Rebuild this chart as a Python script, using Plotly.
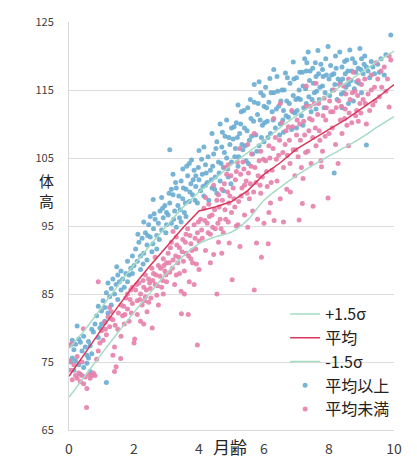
import plotly.graph_objects as go

# ---- reference curves (month, height) ----
curve_x = [0, 0.5, 1, 1.5, 2, 2.5, 3, 3.5, 4, 4.5, 5, 5.5, 6, 6.5, 7, 7.5, 8, 8.5, 9, 9.5, 10]
mean_y = [72.9, 76.4, 79.8, 83.1, 86.3, 89.2, 92.0, 94.7, 97.2, 97.8, 98.6, 100.2, 102.6, 104.3, 106.3,
          107.8, 109.2, 110.6, 112.2, 113.9, 115.8]
upper_y = [77.0, 79.8, 83.0, 86.2, 89.3, 92.2, 95.0, 97.7, 100.0, 102.0, 104.0, 105.8, 107.5, 109.5, 111.2,
           112.8, 114.4, 116.0, 117.6, 119.2, 120.7]
lower_y = [69.8, 73.0, 76.2, 79.3, 82.3, 85.2, 88.0, 90.5, 92.4, 93.4, 94.1, 95.9, 98.8, 100.7, 102.4,
           103.9, 105.3, 106.6, 108.0, 109.6, 111.1]

# ---- individual points: above mean ----
above = [
    (0.05, 77.5), (0.1, 78.2), (0.15, 76.8), (0.2, 77.6), (0.25, 80.3), (0.3, 78.4), (0.35, 77.9), (0.4, 76.6),
    (0.45, 78.8), (0.5, 77.2), (0.55, 76.0), (0.6, 78.0), (0.65, 77.4), (0.7, 76.2), (0.1, 75.6), (0.2, 75.2),
    (0.3, 74.6), (0.45, 74.2), (0.55, 74.8), (0.65, 73.6), (0.6, 75.6), (0.35, 73.2), (0.15, 73.8), (0.75, 79.4),
    (0.8, 80.6), (0.85, 81.8), (0.9, 83.2), (0.95, 80.0), (0.9, 78.6), (0.7, 79.8), (0.05, 75.0),
    (1.0, 82.5), (1.05, 84.0), (1.1, 83.0), (1.15, 85.2), (1.2, 82.2), (1.25, 84.6), (1.3, 85.8), (1.35, 87.2),
    (1.4, 85.0), (1.45, 86.4), (1.5, 87.8), (1.5, 84.2), (1.55, 86.8), (1.6, 88.4), (1.65, 87.2), (1.7, 86.0),
    (1.75, 88.0), (1.8, 89.8), (1.85, 87.8), (1.9, 88.8), (1.95, 90.6), (2.0, 89.2), (1.15, 72.0), (1.0, 80.6),
    (1.1, 81.0), (1.3, 83.4), (1.6, 85.6), (1.8, 86.8), (1.95, 88.0), (1.47, 89.0), (1.2, 86.6),
    (2.05, 91.6), (2.1, 89.8), (2.15, 92.6), (2.2, 90.6), (2.25, 93.2), (2.3, 91.0), (2.35, 94.0), (2.4, 92.2),
    (2.45, 95.2), (2.5, 93.4), (2.55, 91.2), (2.6, 94.6), (2.59, 98.9), (2.65, 96.0), (2.7, 93.6), (2.75, 95.4),
    (2.8, 97.2), (2.85, 94.4), (2.9, 96.2), (2.95, 98.0), (3.0, 95.2), (3.0, 97.0), (2.2, 88.6), (2.4, 90.0),
    (2.5, 96.4), (2.7, 91.6), (2.85, 99.2), (2.3, 95.6),
    (2.12, 93.8), (2.28, 89.4), (2.42, 93.6), (2.58, 92.4), (2.62, 96.8), (2.78, 93.0), (2.88, 97.6), (2.98, 94.0),
    (3.05, 96.6), (3.1, 98.4), (3.1, 106.2), (3.15, 95.4), (3.2, 99.6), (3.25, 97.2), (3.3, 100.6), (3.35, 98.0),
    (3.4, 96.2), (3.45, 101.6), (3.5, 99.0), (3.55, 97.0), (3.6, 100.4), (3.65, 102.4), (3.7, 98.6), (3.75, 101.2),
    (3.77, 104.7), (3.8, 99.6), (3.85, 103.2), (3.9, 100.8), (3.95, 98.4), (4.0, 101.8), (4.0, 106.1), (3.2, 102.6),
    (3.5, 103.4), (3.3, 94.8), (3.6, 96.4), (3.7, 104.2), (3.9, 102.4), (3.15, 100.4), (3.45, 95.6),
    (3.08, 99.8), (3.22, 96.0), (3.28, 101.4), (3.38, 99.4), (3.42, 97.4), (3.52, 100.6), (3.58, 98.4), (3.62, 103.8),
    (3.72, 100.0), (3.82, 101.8), (3.88, 98.8), (3.98, 103.6),
    (4.05, 100.2), (4.1, 102.6), (4.15, 99.4), (4.2, 104.0), (4.25, 101.4), (4.3, 98.8), (4.35, 103.2), (4.4, 100.6),
    (4.45, 105.6), (4.5, 102.2), (4.55, 99.8), (4.6, 104.4), (4.65, 110.0), (4.65, 101.6), (4.7, 106.6), (4.75, 103.6),
    (4.8, 108.2), (4.85, 105.0), (4.9, 102.2), (4.95, 107.0), (5.0, 104.4), (4.15, 106.6), (4.4, 108.6), (4.55, 107.4),
    (4.85, 110.6), (4.75, 100.2), (5.0, 109.4), (4.2, 101.0),
    (4.08, 104.8), (4.12, 100.8), (4.22, 102.8), (4.28, 105.2), (4.38, 101.8), (4.42, 103.8), (4.48, 100.4), (4.52, 106.4),
    (4.62, 102.8), (4.68, 104.2), (4.72, 108.8), (4.78, 105.8), (4.88, 103.4), (4.92, 108.0), (4.98, 101.2),
    (5.05, 107.8), (5.1, 105.2), (5.15, 110.2), (5.2, 103.8), (5.25, 108.6), (5.3, 111.8), (5.35, 106.2), (5.4, 109.4),
    (5.45, 104.6), (5.5, 112.4), (5.55, 107.6), (5.6, 110.8), (5.65, 105.6), (5.7, 115.8), (5.7, 113.2), (5.75, 108.4),
    (5.8, 111.4), (5.85, 106.8), (5.9, 114.6), (5.95, 109.8), (6.0, 112.6), (5.2, 112.8), (5.85, 116.2), (6.0, 107.4),
    (5.08, 109.6), (5.12, 106.4), (5.18, 108.0), (5.22, 105.2), (5.28, 110.0), (5.32, 107.0), (5.38, 112.0), (5.42, 106.8),
    (5.48, 109.0), (5.52, 104.2), (5.58, 113.6), (5.62, 108.2), (5.68, 110.4), (5.78, 106.0), (5.82, 113.0), (5.88, 110.6),
    (5.92, 108.0), (5.98, 114.2),
    (6.05, 115.4), (6.1, 110.4), (6.15, 113.2), (6.18, 116.7), (6.2, 108.6), (6.25, 111.8), (6.3, 114.6), (6.35, 109.4),
    (6.4, 117.0), (6.45, 112.6), (6.5, 110.0), (6.55, 115.0), (6.6, 108.8), (6.66, 117.5), (6.7, 113.4), (6.75, 111.0),
    (6.8, 116.0), (6.85, 109.2), (6.9, 119.1), (6.9, 114.2), (6.95, 111.6), (7.0, 116.8), (7.0, 109.4), (6.3, 118.0),
    (6.6, 112.0),
    (6.02, 110.2), (6.08, 112.4), (6.12, 108.0), (6.22, 114.6), (6.28, 110.6), (6.38, 112.2), (6.42, 114.8), (6.48, 108.4),
    (6.52, 113.4), (6.58, 110.6), (6.62, 115.0), (6.68, 111.2), (6.72, 116.8), (6.78, 113.0), (6.88, 111.8), (6.92, 116.6),
    (6.98, 113.6),
    (7.05, 113.8), (7.1, 117.6), (7.15, 111.2), (7.2, 115.6), (7.25, 119.6), (7.3, 113.0), (7.36, 120.6), (7.4, 116.4),
    (7.45, 111.8), (7.5, 118.2), (7.55, 114.6), (7.6, 117.0), (7.66, 120.8), (7.7, 113.6), (7.75, 118.8), (7.8, 115.6),
    (7.85, 112.4), (7.9, 119.6), (7.97, 121.4), (8.0, 116.6), (7.2, 109.8), (7.6, 112.2), (7.3, 117.8), (7.8, 118.0),
    (7.02, 112.0), (7.08, 115.0), (7.12, 113.6), (7.18, 117.6), (7.22, 112.4), (7.28, 115.2), (7.32, 119.0), (7.38, 114.0),
    (7.42, 117.8), (7.48, 113.6), (7.52, 116.0), (7.58, 119.0), (7.62, 114.8), (7.68, 117.4), (7.72, 115.4), (7.82, 117.0),
    (7.88, 114.6), (7.92, 117.2),
    (8.05, 118.6), (8.1, 115.0), (8.16, 102.8), (8.15, 117.4), (8.2, 120.0), (8.25, 113.6), (8.33, 120.6), (8.35, 116.2),
    (8.4, 118.4), (8.45, 114.6), (8.5, 117.4), (8.55, 119.4), (8.6, 115.8), (8.64, 120.9), (8.7, 117.8), (8.75, 113.4),
    (8.8, 119.0), (8.85, 116.2), (8.9, 118.2), (8.95, 121.1), (9.0, 114.6), (9.0, 119.6), (8.4, 112.4), (8.6, 113.0),
    (8.02, 114.2), (8.08, 117.2), (8.18, 115.8), (8.22, 118.2), (8.28, 116.6), (8.38, 114.4), (8.42, 116.6), (8.48, 119.2),
    (8.52, 115.4), (8.58, 117.8), (8.68, 116.4), (8.72, 119.6), (8.78, 115.2), (8.82, 117.6), (8.92, 116.0), (8.98, 118.0),
    (9.05, 117.4), (9.1, 120.0), (9.15, 106.9), (9.15, 118.4), (9.25, 116.8), (9.3, 119.2), (9.4, 117.4), (9.5, 118.8),
    (9.6, 119.6), (9.7, 117.2), (9.9, 123.1), (9.75, 120.2), (9.08, 118.8), (9.2, 117.8), (9.35, 118.4), (9.55, 117.6),
]

# ---- individual points: below mean ----
below = [
    (0.02, 75.2), (0.05, 73.8), (0.1, 72.4), (0.15, 74.6), (0.2, 73.0), (0.25, 72.6), (0.3, 73.4), (0.35, 72.1),
    (0.4, 73.0), (0.45, 71.8), (0.5, 72.8), (0.55, 71.1), (0.54, 68.3), (0.6, 73.2), (0.65, 72.6), (0.7, 73.0),
    (0.75, 73.4), (0.8, 73.0), (0.85, 75.4), (0.9, 76.6), (0.95, 77.8), (0.44, 79.9), (0.08, 77.7), (0.25, 75.8),
    (0.4, 75.0), (0.9, 86.8),
    (1.0, 79.6), (1.05, 78.2), (1.1, 80.8), (1.15, 79.0), (1.2, 81.6), (1.25, 80.2), (1.3, 82.4), (1.35, 81.2),
    (1.4, 77.2), (1.45, 74.3), (1.5, 79.8), (1.59, 75.5), (1.6, 83.4), (1.65, 81.8), (1.7, 80.6), (1.75, 84.4),
    (1.8, 82.8), (1.85, 81.0), (1.9, 85.6), (1.95, 83.6), (2.0, 77.8), (2.02, 78.4), (1.35, 76.0), (1.6, 78.8),
    (1.8, 85.0), (1.95, 86.0), (1.25, 83.0), (1.4, 73.6),
    (1.12, 79.8), (1.28, 81.4), (1.42, 80.4), (1.52, 82.2), (1.68, 83.2), (1.72, 82.0), (1.88, 84.2), (1.92, 82.2),
    (2.05, 85.6), (2.1, 84.0), (2.15, 86.6), (2.2, 85.0), (2.25, 83.4), (2.3, 86.0), (2.35, 84.6), (2.4, 82.4),
    (2.45, 87.2), (2.5, 85.8), (2.56, 80.0), (2.6, 88.0), (2.65, 86.4), (2.7, 84.8), (2.75, 89.2), (2.8, 87.6),
    (2.85, 86.0), (2.9, 90.2), (2.95, 88.4), (3.0, 86.8), (2.2, 81.0), (2.35, 87.8), (2.55, 88.8), (2.75, 83.4),
    (2.9, 85.0), (3.0, 89.6), (2.45, 83.8), (2.65, 90.4), (2.1, 82.0), (2.3, 80.6),
    (2.08, 86.4), (2.18, 84.2), (2.28, 87.0), (2.32, 84.0), (2.38, 85.6), (2.48, 86.6), (2.52, 84.4), (2.58, 87.0),
    (2.68, 87.8), (2.72, 86.2), (2.82, 88.8), (2.88, 87.0), (2.92, 89.2), (2.98, 87.8),
    (3.05, 91.0), (3.1, 88.2), (3.15, 92.6), (3.2, 90.0), (3.25, 86.4), (3.3, 93.4), (3.35, 89.6), (3.4, 91.8),
    (3.45, 85.4), (3.46, 82.1), (3.5, 93.0), (3.55, 88.4), (3.6, 91.0), (3.65, 94.6), (3.67, 82.0), (3.7, 86.8),
    (3.75, 92.4), (3.8, 89.6), (3.85, 95.2), (3.9, 91.6), (3.95, 77.5), (3.95, 94.0), (4.0, 88.6), (4.0, 92.8),
    (3.3, 87.8), (3.55, 85.0), (3.75, 90.2), (3.2, 94.2), (3.4, 88.0), (3.85, 86.4), (3.6, 93.8),
    (3.08, 89.6), (3.12, 91.8), (3.18, 88.8), (3.28, 90.6), (3.32, 92.2), (3.38, 90.4), (3.48, 91.2), (3.52, 89.8),
    (3.58, 92.6), (3.68, 90.6), (3.72, 93.6), (3.78, 91.4), (3.88, 93.2), (3.92, 89.4), (3.98, 95.6),
    (4.05, 96.0), (4.1, 93.2), (4.15, 97.6), (4.2, 91.4), (4.25, 95.4), (4.3, 98.2), (4.35, 93.8), (4.4, 96.6),
    (4.45, 90.8), (4.5, 94.6), (4.55, 85.0), (4.55, 98.8), (4.6, 92.6), (4.65, 96.0), (4.7, 100.4), (4.75, 94.0),
    (4.8, 97.4), (4.85, 102.6), (4.9, 95.6), (4.93, 92.5), (4.95, 99.4), (5.0, 97.0), (5.02, 87.1), (4.2, 99.2),
    (4.45, 101.0), (4.7, 91.0), (4.8, 103.6), (4.35, 89.6), (4.6, 99.6), (4.9, 104.0),
    (4.08, 94.4), (4.18, 95.8), (4.28, 94.0), (4.32, 96.4), (4.42, 94.8), (4.48, 97.4), (4.58, 95.4), (4.62, 97.8),
    (4.68, 94.6), (4.72, 98.8), (4.78, 101.2), (4.82, 96.0), (4.88, 100.0), (4.92, 98.4), (4.98, 102.4),
    (5.05, 100.6), (5.1, 97.8), (5.15, 103.0), (5.2, 95.2), (5.26, 92.0), (5.3, 99.4), (5.35, 104.4), (5.4, 96.6),
    (5.45, 101.6), (5.5, 94.8), (5.55, 99.0), (5.6, 103.8), (5.65, 97.2), (5.7, 85.6), (5.75, 101.4), (5.77, 92.5),
    (5.8, 96.0), (5.85, 104.6), (5.9, 99.8), (5.92, 90.4), (5.95, 102.2), (6.0, 95.4), (5.25, 106.4), (5.5, 107.0),
    (5.7, 108.6), (5.15, 95.0), (5.4, 101.0), (5.9, 106.0),
    (5.08, 99.0), (5.12, 101.8), (5.18, 104.4), (5.22, 98.6), (5.28, 102.6), (5.32, 100.6), (5.38, 103.4), (5.48, 99.8),
    (5.52, 102.8), (5.58, 101.2), (5.62, 105.6), (5.68, 100.0), (5.72, 103.6), (5.82, 102.4), (5.88, 101.0), (5.98, 104.8),
    (6.05, 104.6), (6.1, 100.8), (6.13, 92.4), (6.15, 106.8), (6.2, 98.4), (6.25, 103.2), (6.31, 95.8), (6.35, 108.0),
    (6.4, 101.6), (6.45, 105.4), (6.5, 99.0), (6.55, 110.2), (6.6, 95.6), (6.6, 103.6), (6.65, 107.0), (6.7, 100.4),
    (6.75, 109.6), (6.8, 104.2), (6.81, 100.0), (6.85, 112.0), (6.9, 106.2), (6.95, 102.4), (7.0, 108.4), (6.3, 110.8),
    (6.5, 113.0), (6.15, 97.0),
    (6.08, 103.0), (6.18, 105.0), (6.22, 101.4), (6.28, 106.4), (6.38, 104.8), (6.48, 107.6), (6.58, 105.8), (6.68, 109.0),
    (6.72, 105.4), (6.78, 107.6), (6.88, 109.6), (6.98, 106.2),
    (7.05, 105.2), (7.08, 95.9), (7.1, 110.0), (7.15, 103.6), (7.18, 98.3), (7.2, 102.0), (7.25, 108.4), (7.3, 112.6),
    (7.35, 106.0), (7.4, 110.8), (7.45, 104.2), (7.5, 108.0), (7.51, 97.9), (7.55, 113.0), (7.6, 106.8), (7.65, 111.4),
    (7.7, 109.0), (7.75, 104.6), (7.77, 103.7), (7.8, 106.0), (7.85, 113.8), (7.9, 110.6), (7.97, 99.1), (8.0, 108.6),
    (7.3, 115.6), (7.6, 116.0),
    (7.02, 110.6), (7.12, 107.6), (7.22, 110.4), (7.28, 105.8), (7.38, 109.0), (7.42, 112.6), (7.48, 110.6), (7.58, 109.4),
    (7.68, 113.0), (7.72, 107.6), (7.82, 111.2), (7.88, 108.2), (7.92, 112.4),
    (8.05, 111.8), (8.1, 109.4), (8.2, 107.0), (8.28, 104.2), (8.3, 113.4), (8.35, 110.6), (8.4, 108.6), (8.45, 115.6),
    (8.5, 112.2), (8.55, 109.8), (8.6, 116.6), (8.65, 113.6), (8.7, 110.2), (8.75, 117.6), (8.8, 114.8), (8.85, 112.0),
    (8.9, 116.4), (8.95, 113.0), (9.0, 115.8), (8.15, 115.0), (8.6, 106.8), (8.9, 110.4),
    (8.02, 113.4), (8.12, 111.8), (8.22, 112.4), (8.32, 115.8), (8.38, 112.6), (8.48, 110.8), (8.52, 114.4), (8.62, 111.6),
    (8.72, 114.6), (8.82, 111.2), (8.88, 114.2), (8.98, 111.6),
    (9.05, 113.6), (9.1, 116.6), (9.15, 110.0), (9.2, 114.4), (9.3, 117.2), (9.35, 112.8), (9.4, 115.4), (9.5, 116.6),
    (9.55, 114.0), (9.6, 117.8), (9.7, 118.4), (9.8, 116.6), (9.85, 112.5), (9.85, 120.0), (9.9, 119.4), (9.3, 115.0),
    (9.45, 119.0), (9.12, 113.0), (9.25, 112.0), (9.42, 113.4), (9.62, 115.4), (9.75, 114.8),
]

y_ticks = [65, 75, 85, 95, 105, 115, 125]
x_ticks = [0, 2, 4, 6, 8, 10]

BLUE = "#68acd2"
PINK = "#e57fab"
RED = "#d8385c"
GREEN = "#a6dbc4"
FONT = "Noto Sans CJK JP"

fig = go.Figure()
fig.add_trace(go.Scatter(x=[p[0] for p in above], y=[p[1] for p in above], mode="markers", name="平均以上",
                         marker=dict(color=BLUE, size=5, opacity=0.9), legendrank=4))
fig.add_trace(go.Scatter(x=[p[0] for p in below], y=[p[1] for p in below], mode="markers", name="平均未満",
                         marker=dict(color=PINK, size=5, opacity=0.9), legendrank=5))
fig.add_trace(go.Scatter(x=curve_x, y=upper_y, mode="lines", name="+1.5σ",
                         line=dict(color=GREEN, width=1.5, shape="spline"), legendrank=1))
fig.add_trace(go.Scatter(x=curve_x, y=mean_y, mode="lines", name="平均",
                         line=dict(color=RED, width=1.5), legendrank=2))
fig.add_trace(go.Scatter(x=curve_x, y=lower_y, mode="lines", name="-1.5σ",
                         line=dict(color=GREEN, width=1.5, shape="spline"), legendrank=3))

# page body has an 8px margin, so figure is 8px smaller and margins shifted
fig.update_layout(
    width=409, height=451,
    margin=dict(l=61, r=23, t=14, b=29, autoexpand=False),
    paper_bgcolor="white", plot_bgcolor="white",
    font=dict(family=FONT, color="#333333"),
    showlegend=True,
    legend=dict(x=0.665, y=0.326, xanchor="left", yanchor="top", bgcolor="rgba(255,255,255,0)",
                font=dict(size=16, color="#222222", family=FONT), itemwidth=30, tracegroupgap=0),
    xaxis=dict(range=[0, 10], tickvals=x_ticks, showgrid=False, zeroline=False, showline=True,
               linecolor="#d9d9d9", linewidth=1, ticks="", tickfont=dict(size=14, color="#404040"),
               ticklabelstandoff=6, automargin=False),
    yaxis=dict(range=[65, 125], tickvals=y_ticks, showgrid=True, gridcolor="#dcdcdc", gridwidth=1,
               zeroline=False, showline=True, linecolor="#d9d9d9", linewidth=1, ticks="",
               tickfont=dict(size=11, color="#404040"), ticklabelstandoff=12, automargin=False),
    annotations=[
        dict(text="体<br>高", xref="paper", yref="paper", x=-0.068, y=0.588, showarrow=False,
             font=dict(size=15, color="#222222", family=FONT), xanchor="center", yanchor="middle"),
        dict(text="月齢", xref="x", yref="paper", x=4.95, y=-0.04, showarrow=False,
             font=dict(size=17, color="#222222", family=FONT), xanchor="center", yanchor="middle"),
    ],
    shapes=[dict(type="line", xref="paper", yref="paper", x0=1.055, x1=1.055, y0=1.04, y1=-0.075,
                 line=dict(color="#e3e3e3", width=1.5))],
)

fig.write_html("out.html")
